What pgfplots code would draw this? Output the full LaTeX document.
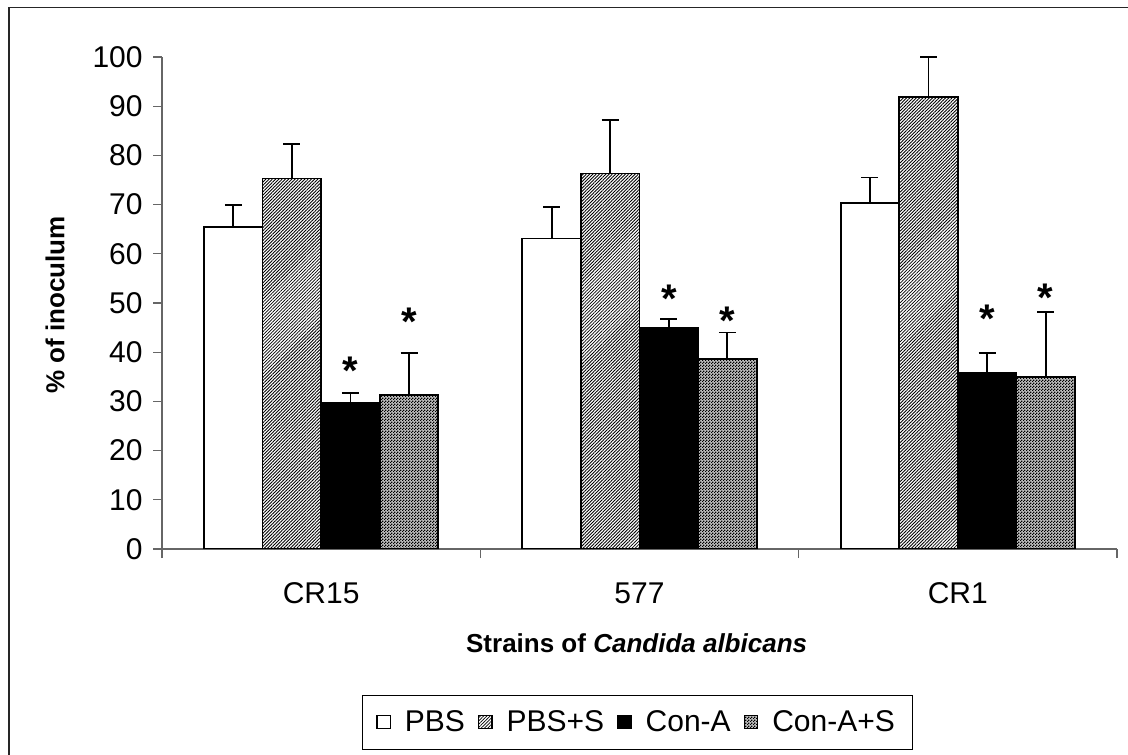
\documentclass[border=0pt]{standalone}
\usepackage{fontspec}
\setmainfont{Liberation Sans}
\usepackage{pgfplots}
\usepackage{pgfplotstable}
\pgfplotsset{compat=1.18}
\usetikzlibrary{patterns,patterns.meta}

\tikzdeclarepattern{
  name=checker,
  type=uncolored,
  bounding box={(0pt,0pt) and (1.5pt,1.5pt)},
  tile size={(1.5pt,1.5pt)},
  code={
    \fill (0pt,0pt) rectangle (0.75pt,0.75pt);
    \fill (0.75pt,0.75pt) rectangle (1.5pt,1.5pt);
  }
}

\pgfplotstableread{
x y e
0 65.4 4.5
1 63.1 6.4
2 70.4 5.1
}\pbs
\pgfplotstableread{
x y e
0 75.3 7.0
1 76.3 10.9
2 91.8 8.2
}\pbss
\pgfplotstableread{
x y e
0 29.6 2.1
1 45.0 1.7
2 35.8 4.1
}\cona
\pgfplotstableread{
x y e
0 31.3 8.6
1 38.6 5.4
2 34.9 13.2
}\conas

\newcommand{\lf}{\fontsize{15}{18}\selectfont}
\begin{document}
\begin{tikzpicture}
\useasboundingbox (0,0) rectangle (564pt,377pt);
\clip (0,0) rectangle (564pt,377pt);
\fill[white] (0,0) rectangle (564pt,377pt);
\draw[line width=0.7pt, black!85] (4.5pt,-20pt) -- (4.5pt,373.3pt) -- (600pt,373.3pt);
\begin{axis}[
  at={(81pt,102.5pt)}, anchor=south west,
  scale only axis, width=477.5pt, height=246pt,
  xmin=-0.5, xmax=2.5, ymin=0, ymax=100,
  axis lines*=left,
  axis line style={black!60, line width=0.6pt},
  ybar=0pt, bar width=0.184,
  ytick={0,10,...,100},
  xtick={-0.5,0.5,1.5,2.5}, xticklabels={},
  extra x ticks={0,1,2}, extra x tick labels={CR15,577,CR1},
  extra x tick style={major tick length=0pt},
  tick align=outside,
  major tick length=4.5pt,
  tick style={black!60, line width=0.6pt},
  /pgf/number format/assume math mode=true,
  ticklabel style={font=\fontsize{15}{18}\selectfont},
  every y tick label/.append style={anchor=east, inner xsep=0pt, xshift=-5pt},
  xticklabel style={anchor=center, yshift=-22.3pt},
  xlabel={Strains of \textit{Candida albicans}},
  xlabel style={at={(axis description cs:0.497,-0.191)}, anchor=center, font=\bfseries\fontsize{13}{15}\selectfont},
  ylabel={\% of inoculum},
  ylabel style={at={(axis description cs:-0.112,0.496)}, anchor=center, font=\bfseries\fontsize{13}{15}\selectfont},
  legend columns=4,
  legend style={at={(axis description cs:0.498,-0.352)}, anchor=center, draw=black, line width=0.6pt,
    font=\lf, inner xsep=7pt, inner ysep=5.5pt,
    /tikz/every odd column/.append style={column sep=5pt},
    /tikz/every even column/.append style={column sep=4.5pt}},
  legend image code/.code={\draw[#1, line width=0.7pt] (0pt,-3.3pt) rectangle (6.6pt,3.3pt);},
  every axis plot/.append style={draw=black, line width=0.9pt},
]
\addplot[fill=white,
  error bars/.cd, y dir=plus, y explicit,
  error bar style={line width=0.9pt, black},
  error mark options={rotate=90, black, line width=0.9pt, mark size=4.25pt}]
  table[x=x, y=y, y error=e]{\pbs};
\addplot[fill=white, postaction={pattern={Lines[angle=45,distance=1.15pt,line width=0.42pt]}},
  error bars/.cd, y dir=plus, y explicit,
  error bar style={line width=0.9pt, black},
  error mark options={rotate=90, black, line width=0.9pt, mark size=4.25pt}]
  table[x=x, y=y, y error=e]{\pbss};
\addplot[fill=black,
  error bars/.cd, y dir=plus, y explicit,
  error bar style={line width=0.9pt, black},
  error mark options={rotate=90, black, line width=0.9pt, mark size=4.25pt}]
  table[x=x, y=y, y error=e]{\cona};
\addplot[fill=black!25, postaction={pattern=checker},
  error bars/.cd, y dir=plus, y explicit,
  error bar style={line width=0.9pt, black},
  error mark options={rotate=90, black, line width=0.9pt, mark size=4.25pt}]
  table[x=x, y=y, y error=e]{\conas};
\legend{PBS,PBS+S,Con-A,Con-A+S}
\begin{scope}[every node/.style={font=\bfseries\fontsize{20}{22}\selectfont, yshift=-4.5pt}]
\node at (axis cs:0.092,38.0) {*};
\node at (axis cs:0.276,48.0) {*};
\node at (axis cs:1.092,52.6) {*};
\node at (axis cs:1.276,48.2) {*};
\node at (axis cs:2.092,48.6) {*};
\node at (axis cs:2.276,52.8) {*};
\end{scope}
\end{axis}
\end{tikzpicture}
\end{document}
